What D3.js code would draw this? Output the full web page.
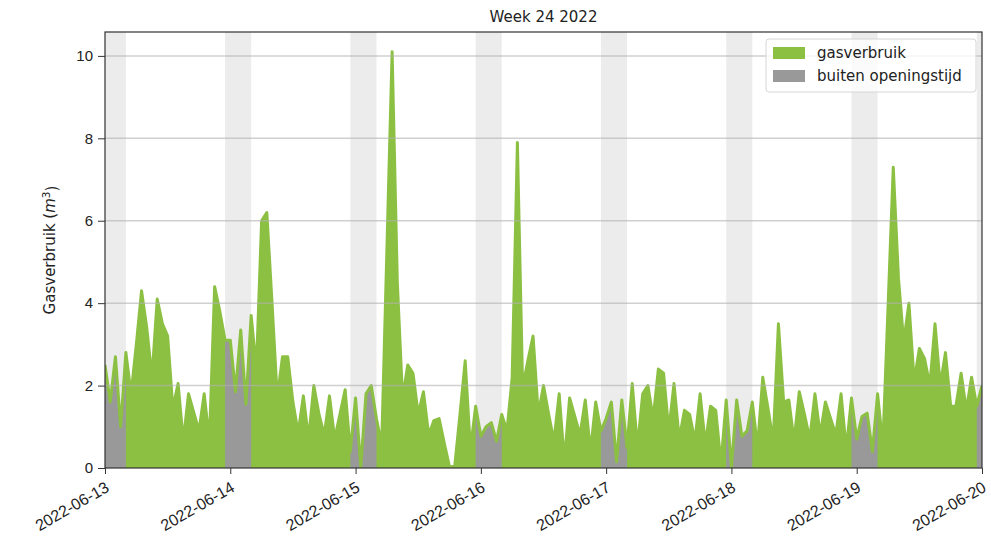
<!DOCTYPE html>
<html>
<head>
<meta charset="utf-8">
<script src="https://cdn.jsdelivr.net/npm/d3@7"></script>
<style>
  body { margin: 0; background: #fff; }
  svg { font-family: "DejaVu Sans", sans-serif; }
</style>
</head>
<body>
<script>
// gas usage per hour, starting 2022-06-13 00:00
let startTijd = new Date(2022, 5, 13, 0);
let gasverbruik = [
  // 13 juni
  2.5, 1.6, 2.7, 1.0, 2.8, 1.8, 3.0, 4.3, 3.4, 2.2, 4.1, 3.5, 3.2, 1.45, 2.05, 0.65, 1.8, 1.35, 0.9, 1.8, 0.65, 4.4, 3.8, 3.1,
  // 14 juni
  3.1, 1.85, 3.35, 1.55, 3.7, 2.4, 6.0, 6.2, 4.0, 1.7, 2.7, 2.7, 1.6, 0.85, 1.75, 0.7, 2.0, 1.3, 0.8, 1.75, 0.7, 1.3, 1.9, 0.4,
  // 15 juni
  1.7, 0.02, 1.8, 2.0, 1.2, 0.55, 5.3, 10.1, 4.5, 1.7, 2.5, 2.3, 1.3, 1.85, 0.8, 1.15, 1.2, 0.6, 0.02, 0.05, 1.3, 2.6, 0.45, 1.5,
  // 16 juni
  0.77, 1.0, 1.1, 0.65, 1.3, 0.9, 2.2, 7.9, 1.95, 2.6, 3.2, 1.3, 2.0, 1.3, 0.65, 1.8, 0.15, 1.7, 1.25, 0.8, 1.65, 0.4, 1.6, 0.9,
  // 17 juni
  1.2, 1.6, 0.15, 1.65, 0.5, 2.05, 0.5, 1.8, 2.0, 1.2, 2.4, 2.3, 0.9, 2.05, 0.7, 1.4, 1.3, 0.65, 1.8, 0.57, 1.5, 1.4, 0.1, 1.65,
  // 18 juni
  0.0, 1.65, 0.77, 0.9, 1.6, 0.5, 2.2, 1.45, 0.65, 3.5, 1.6, 1.65, 0.65, 1.85, 1.3, 0.7, 1.8, 0.8, 1.6, 1.2, 0.8, 1.8, 0.45, 1.7,
  // 19 juni
  0.7, 1.25, 1.33, 0.4, 1.8, 0.55, 3.9, 7.3, 4.6, 3.05, 4.0, 2.1, 2.9, 2.65, 2.0, 3.5, 2.0, 2.8, 1.5, 1.5, 2.3, 1.4, 2.2, 1.5,
  // 20 juni 00:00
  2.0
];

// hours outside opening time: 23:00 - 04:00
let sluitUur = 23;
let openUur = 4;

let nachtBanden = [
  ["2022-06-12T23:00", "2022-06-13T04:00"],
  ["2022-06-13T23:00", "2022-06-14T04:00"],
  ["2022-06-14T23:00", "2022-06-15T04:00"],
  ["2022-06-15T23:00", "2022-06-16T04:00"],
  ["2022-06-16T23:00", "2022-06-17T04:00"],
  ["2022-06-17T23:00", "2022-06-18T04:00"],
  ["2022-06-18T23:00", "2022-06-19T04:00"],
  ["2022-06-19T23:00", "2022-06-20T04:00"]
];

let xTicks = ["2022-06-13", "2022-06-14", "2022-06-15", "2022-06-16", "2022-06-17", "2022-06-18", "2022-06-19", "2022-06-20"];
let yTicks = [0, 2, 4, 6, 8, 10];

let groen = "#8cc043";
let grijs = "#999999";

let data = gasverbruik.map((v, i) => {
  let t = d3.timeHour.offset(startTijd, i);
  return { tijd: t, waarde: v, nacht: t.getHours() >= sluitUur || t.getHours() <= openUur };
});

let margin = {top: 32, right: 9, bottom: 73, left: 105},
    width = 991 - margin.left - margin.right,
    height = 541 - margin.top - margin.bottom;

let parseDag = d3.timeParse("%Y-%m-%d");
let parseUur = d3.timeParse("%Y-%m-%dT%H:%M");

let x = d3.scaleTime()
    .domain([parseDag(xTicks[0]), parseDag(xTicks[xTicks.length - 1])])
    .range([0, width]);
let y = d3.scaleLinear().domain([0, 10.58]).range([height, 0]);

let svg = d3.select("body").append("svg")
    .attr("width", 991)
    .attr("height", 541)
  .append("g")
    .attr("transform", "translate(" + margin.left + "," + margin.top + ")");

svg.append("clipPath").attr("id", "clip")
  .append("rect").attr("width", width).attr("height", height);

let plot = svg.append("g").attr("clip-path", "url(#clip)");

// night bands
plot.selectAll(".band")
    .data(nachtBanden)
    .enter()
  .append("rect")
    .attr("class", "band")
    .attr("x", d => x(parseUur(d[0])))
    .attr("width", d => x(parseUur(d[1])) - x(parseUur(d[0])))
    .attr("y", 0)
    .attr("height", height)
    .style("fill", "#ececec");

let area = d3.area()
    .x(d => x(d.tijd))
    .y0(y(0))
    .y1(d => y(d.waarde));

plot.append("path")
    .datum(data)
    .attr("d", area)
    .style("fill", groen);

plot.append("path")
    .datum(data)
    .attr("d", area.defined(d => d.nacht))
    .style("fill", grijs);

// outline of the usage on top
plot.append("path")
    .datum(data)
    .attr("d", d3.line().x(d => x(d.tijd)).y(d => y(d.waarde)))
    .style("fill", "none")
    .style("stroke", groen)
    .style("stroke-width", 3)
    .style("stroke-linejoin", "round");

// grid
plot.selectAll(".grid")
    .data(yTicks.slice(1))
    .enter()
  .append("line")
    .attr("x1", 0).attr("x2", width)
    .attr("y1", d => y(d)).attr("y2", d => y(d))
    .style("stroke", "#b0b0b0")
    .style("stroke-opacity", 0.6)
    .style("stroke-width", 1.5);

// axes
let xAxis = d3.axisBottom(x)
    .tickValues(xTicks.map(parseDag))
    .tickFormat(d3.timeFormat("%Y-%m-%d"))
    .tickSize(6).tickPadding(4).tickSizeOuter(0);
let yAxis = d3.axisLeft(y).tickValues(yTicks).tickSize(7).tickPadding(5).tickSizeOuter(0);

svg.append("g")
    .attr("transform", "translate(0," + height + ")")
    .call(xAxis)
    .call(g => g.select(".domain").remove())
    .selectAll("text")
    .style("font-size", "16px")
    .style("fill", "#222")
    .style("text-anchor", "end")
    .attr("dy", "0.35em")
    .attr("transform", "translate(-3,9) rotate(-30)");

svg.append("g")
    .call(yAxis)
    .call(g => g.select(".domain").remove())
    .selectAll("text")
    .style("font-size", "15px")
    .style("fill", "#222");

svg.selectAll(".tick line").style("stroke", "#333");

svg.append("rect")
    .attr("width", width).attr("height", height)
    .style("fill", "none")
    .style("stroke", "#333")
    .style("stroke-width", 1.2);

// title
svg.append("text")
    .attr("x", width / 2)
    .attr("y", -10)
    .attr("text-anchor", "middle")
    .style("font-size", "15px")
    .style("fill", "#222")
    .text("Week 24 2022");

// y label
let ylab = svg.append("text")
    .attr("transform", "translate(-50," + (height / 2) + ") rotate(-90)")
    .attr("text-anchor", "middle")
    .style("font-size", "15px")
    .style("fill", "#222");
ylab.append("tspan").text("Gasverbruik (");
ylab.append("tspan").style("font-style", "italic").text("m");
ylab.append("tspan").attr("dy", "-0.45em").style("font-size", "10.5px").text("3");
ylab.append("tspan").attr("dy", "0.45em").text(")");

// legend
let legend = svg.append("g").attr("transform", "translate(" + (width - 216) + ",7)");
legend.append("rect")
    .attr("width", 210).attr("height", 53)
    .attr("rx", 3)
    .style("fill", "#fff").style("fill-opacity", 0.8)
    .style("stroke", "#d6d6d6");
let items = [["gasverbruik", groen], ["buiten openingstijd", grijs]];
items.forEach((it, i) => {
  legend.append("rect")
      .attr("x", 7).attr("y", 8 + i * 23)
      .attr("width", 32).attr("height", 12)
      .style("fill", it[1]);
  legend.append("text")
      .attr("x", 51).attr("y", 19 + i * 23)
      .style("font-size", "15px")
      .style("fill", "#222")
      .text(it[0]);
});
</script>
</body>
</html>
